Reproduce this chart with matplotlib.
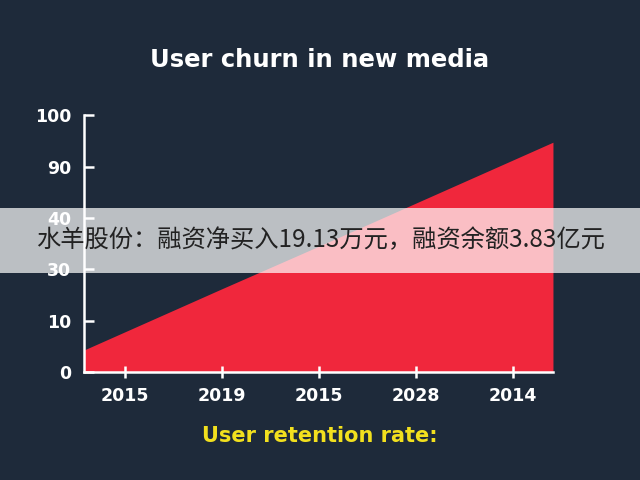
import numpy as np
import matplotlib
matplotlib.use("Agg")
import matplotlib.pyplot as plt

# chart data
years = ["2015", "2019", "2015", "2028", "2014"]
y_labels = ["0", "10", "30", "40", "90", "100"]
# height of the red area at each year, in tick steps
churn = [0.78, 1.62, 2.45, 3.29, 4.13]
banner = "水羊股份：融资净买入19.13万元，融资余额3.83亿元"

bg = "#1e2a3a"
red = "#f0273c"

fig = plt.figure(figsize=(6.4, 4.8), dpi=100, facecolor=bg)
ax = fig.add_axes([0.131, 0.225, 0.733, 0.535])
ax.set_facecolor(bg)

x = np.arange(len(years))
x_left, x_right = -0.42, 4.41
# carry the straight edge out to the plot borders
y_left = churn[0] - (churn[1] - churn[0]) * (0 - x_left)
y_right = churn[-1] + (churn[-1] - churn[-2]) * (x_right - x[-1])
xs = np.concatenate([[x_left], x, [x_right]])
ys = np.concatenate([[y_left], churn, [y_right]])
ax.fill_between(xs, 0, ys, color=red, linewidth=0)

ax.set_xlim(x_left, x_right)
ax.set_ylim(0, 5)
ax.set_xticks(x)
ax.set_xticklabels(years)
ax.set_yticks(range(len(y_labels)))
ax.set_yticklabels(y_labels)

for s in ["top", "right"]:
    ax.spines[s].set_visible(False)
for s in ["left", "bottom"]:
    ax.spines[s].set_color("white")
    ax.spines[s].set_linewidth(1.8)

ax.tick_params(axis="y", direction="in", length=7, width=1.8, colors="white",
               labelsize=12.5, pad=9)
ax.tick_params(axis="x", direction="inout", length=9, width=1.8, colors="white",
               labelsize=12.5, pad=6)
for lab in ax.get_xticklabels() + ax.get_yticklabels():
    lab.set_fontweight("heavy")

fig.text(0.5, 0.875, "User churn in new media", color="white", fontsize=17.5,
         fontweight="heavy", ha="center", va="center")
fig.text(0.5, 0.092, "User retention rate:", color="#f2e01e", fontsize=15,
         fontweight="heavy", ha="center", va="center")

# semi transparent news banner across the middle
fig.patches.append(plt.Rectangle((0, 0.432), 1, 0.135, transform=fig.transFigure,
                                 facecolor="white", alpha=0.7, edgecolor="none",
                                 zorder=5))
fig.text(0.5, 0.5, banner, color="#222222", fontsize=17.5, ha="center", va="center",
         family=["Noto Sans CJK SC", "DejaVu Sans"], zorder=6)

fig.savefig("out.png", dpi=100, facecolor=bg)
